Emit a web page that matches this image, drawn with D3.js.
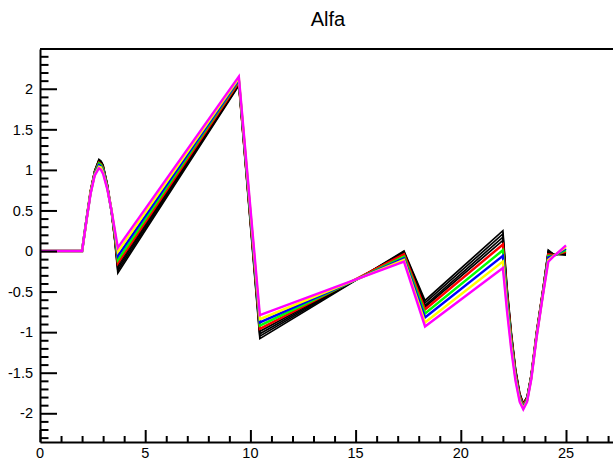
<!DOCTYPE html>
<html>
<head>
<meta charset="utf-8">
<script src="https://cdn.jsdelivr.net/npm/d3@7"></script>
<style>
  body { margin: 0; background: #fff; }
  svg { display: block; font-family: "Liberation Sans", Arial, Helvetica, sans-serif; }
</style>
</head>
<body>
<svg id="chart" width="613" height="462"></svg>
<script>
// shared x positions of every graph
var xs = [0, 2, 2.2, 2.4, 2.6, 2.8, 2.9, 3.0, 3.2, 3.4, 3.55, 3.7, 9.45, 10.45, 17.3, 18.3,
          22.0, 22.2, 22.4, 22.6, 22.8, 22.97, 23.15, 23.35, 23.6, 23.9, 24.16, 24.4, 25];

// y values, in drawing order (black ones first, magenta last)
var blackA  = [0,0,.38,.74,.99,1.13,1.11,1.06,.82,.48,.14,-.27,2.04,-1.08,0,-.61,.25,-.45,-1.00,-1.45,-1.75,-1.88,-1.80,-1.52,-1.00,-.48,.01,-.04,-.05];
var blackB  = [0,0,.38,.74,.99,1.12,1.10,1.05,.82,.48,.15,-.24,2.05,-1.05,-.01,-.64,.21,-.47,-1.02,-1.46,-1.76,-1.88,-1.80,-1.52,-1.00,-.48,0,-.04,-.04];
var blackC  = [0,0,.38,.73,.98,1.11,1.09,1.04,.81,.48,.16,-.21,2.06,-1.02,-.02,-.67,.17,-.50,-1.03,-1.47,-1.77,-1.89,-1.81,-1.53,-1.01,-.49,-.01,-.04,-.03];
var blackD  = [0,0,.38,.73,.98,1.10,1.08,1.03,.81,.48,.17,-.18,2.07,-.99,-.03,-.69,.13,-.52,-1.05,-1.48,-1.78,-1.90,-1.81,-1.53,-1.02,-.50,-.02,-.05,-.02];
var red     = [0,0,.37,.73,.97,1.09,1.07,1.02,.80,.49,.18,-.15,2.08,-.96,-.04,-.72,.08,-.55,-1.07,-1.50,-1.79,-1.90,-1.82,-1.54,-1.02,-.50,-.04,-.05,-.01];
var green   = [0,0,.37,.72,.96,1.08,1.06,1.01,.79,.49,.21,-.11,2.10,-.92,-.07,-.77,.01,-.60,-1.11,-1.53,-1.81,-1.92,-1.83,-1.55,-1.04,-.52,-.06,-.06,.01];
var blue    = [0,0,.37,.71,.95,1.06,1.04,.99,.78,.49,.23,-.06,2.11,-.88,-.09,-.82,-.06,-.65,-1.15,-1.55,-1.82,-1.93,-1.84,-1.56,-1.05,-.53,-.08,-.06,.03];
var yellow  = [0,0,.36,.71,.94,1.04,1.03,.97,.77,.50,.25,-.01,2.13,-.84,-.11,-.88,-.13,-.70,-1.18,-1.57,-1.84,-1.94,-1.85,-1.57,-1.06,-.54,-.11,-.06,.05];
var magenta = [0,0,.36,.70,.93,1.02,1.00,.95,.76,.50,.27,.04,2.15,-.79,-.13,-.93,-.21,-.75,-1.22,-1.60,-1.86,-1.95,-1.86,-1.58,-1.07,-.55,-.13,-.07,.07];

var series = [blackA, blackB, blackC, blackD, red, green, blue, yellow, magenta];
var colors = ["#000000", "#000000", "#000000", "#000000", "#ff0000", "#00ff00", "#0000ff", "#ffff00", "#ff00ff"];

var xMajor = [0, 5, 10, 15, 20, 25];
var yMajor = [-2, -1.5, -1, -0.5, 0, 0.5, 1, 1.5, 2];
var yLabels = ["-2", "-1.5", "-1", "-0.5", "0", "0.5", "1", "1.5", "2"];
var title = "Alfa";

var svg = d3.select("#chart");
var padLeft = 40, padRight = 618.6, padTop = 49, padBottom = 442;

var x = d3.scaleLinear().domain([0, 27.5]).range([padLeft, padRight]);
var y = d3.scaleLinear().domain([-2.354, 2.49]).range([padBottom, padTop]);

svg.append("clipPath").attr("id", "plot")
  .append("rect").attr("x", padLeft).attr("y", padTop)
  .attr("width", padRight - padLeft).attr("height", padBottom - padTop);

// graphs
var line = d3.line()
    .x(function (d, i) { return x(xs[i]); })
    .y(function (d) { return y(d); });

svg.append("g").attr("clip-path", "url(#plot)")
  .selectAll("path")
  .data(series)
  .enter().append("path")
    .attr("d", line)
    .attr("fill", "none")
    .attr("stroke", function (d, i) { return colors[i]; })
    .attr("stroke-width", function (d, i) { return colors[i] === "#000000" ? 1.7 : 2.4; })
    .attr("stroke-linejoin", "miter");

// frame
svg.append("line").attr("x1", padLeft).attr("x2", 613).attr("y1", padTop).attr("y2", padTop)
  .attr("stroke", "#000").attr("stroke-width", 2);

// x axis, ticks pointing up into the frame
var xAxis = d3.axisTop(x)
    .tickValues(d3.range(0, 28, 1))
    .tickSize(6)
    .tickSizeOuter(0)
    .tickFormat("");
svg.append("g").attr("transform", "translate(0," + padBottom + ")").call(xAxis)
  .call(function (g) {
    g.select(".domain").attr("stroke-width", 2);
    g.selectAll(".tick line").attr("stroke-width", 2)
      .attr("y2", function (d) { return d % 5 === 0 ? -12 : -6; });
  });

svg.append("g").selectAll("text")
  .data(xMajor)
  .enter().append("text")
    .attr("x", function (d) { return x(d); })
    .attr("y", 458)
    .attr("text-anchor", "middle")
    .attr("font-size", 14.5)
    .text(function (d) { return d; });

// y axis, ticks pointing right into the frame
var yAxis = d3.axisRight(y)
    .tickValues(d3.range(-23, 25, 1).map(function (v) { return v / 10; }))
    .tickSize(8.5)
    .tickSizeOuter(0)
    .tickFormat("");
svg.append("g").attr("transform", "translate(" + padLeft + ",0)").call(yAxis)
  .call(function (g) {
    g.select(".domain").attr("stroke-width", 2);
    g.selectAll(".tick line").attr("stroke-width", 2)
      .attr("x2", function (d) { return Math.abs(Math.round(d * 10)) % 5 === 0 ? 17 : 8.5; });
  });

svg.append("g").selectAll("text")
  .data(yMajor)
  .enter().append("text")
    .attr("x", 33)
    .attr("y", function (d) { return y(d); })
    .attr("dy", "0.36em")
    .attr("text-anchor", "end")
    .attr("font-size", 14.5)
    .text(function (d, i) { return yLabels[i]; });

svg.append("text")
  .attr("x", 328).attr("y", 26)
  .attr("text-anchor", "middle")
  .attr("font-size", 20)
  .text(title);
</script>
</body>
</html>
